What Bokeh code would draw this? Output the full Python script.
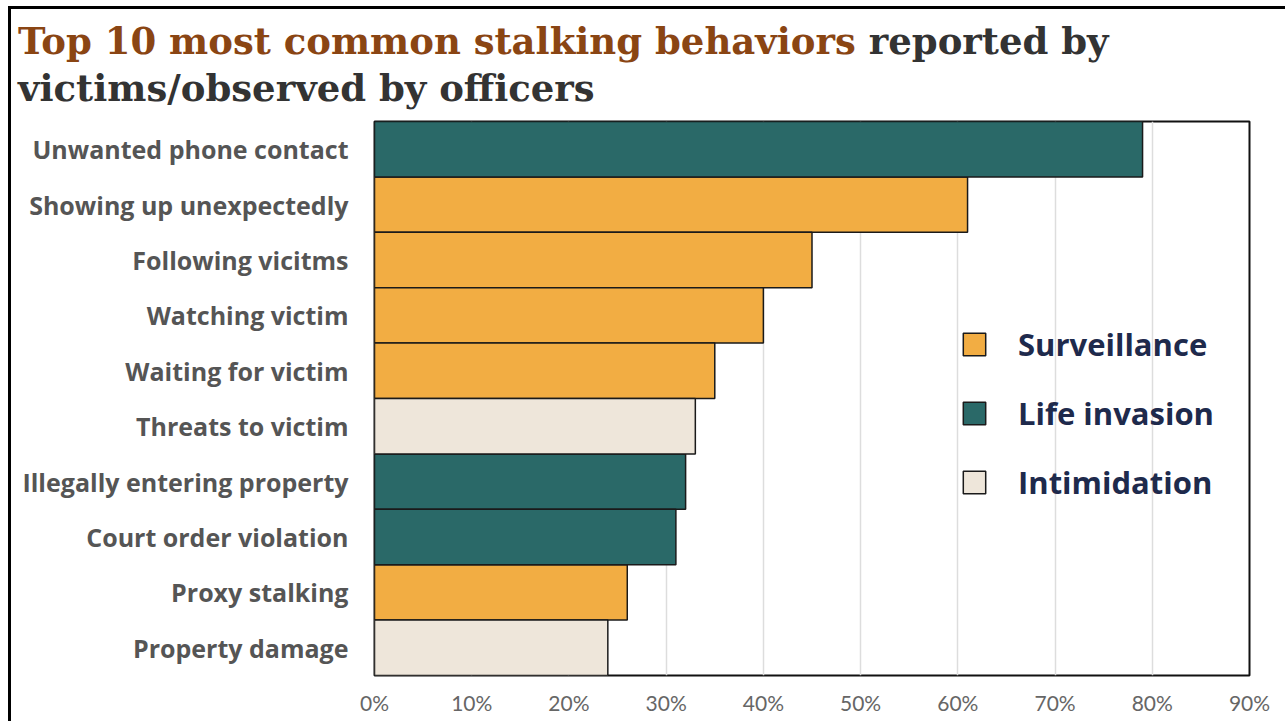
from bokeh.plotting import figure
from bokeh.models import Legend, LegendItem, FixedTicker, ColumnDataSource, Range1d, Div
from bokeh.layouts import column
from bokeh.embed import file_html
from bokeh.resources import INLINE

behaviors = ["Unwanted phone contact", "Showing up unexpectedly", "Following vicitms",
             "Watching victim", "Waiting for victim", "Threats to victim",
             "Illegally entering property", "Court order violation", "Proxy stalking",
             "Property damage"]
percent = [79, 61, 45, 40, 35, 33, 32, 31, 26, 24]
category = ["Life invasion", "Surveillance", "Surveillance", "Surveillance", "Surveillance",
            "Intimidation", "Life invasion", "Life invasion", "Surveillance", "Intimidation"]
legend_order = ["Surveillance", "Life invasion", "Intimidation"]
cat_colors = ["#f2ad43", "#2a6968", "#eee6da"]
x_ticks = [0, 10, 20, 30, 40, 50, 60, 70, 80, 90]
x_tick_labels = ["0%", "10%", "20%", "30%", "40%", "50%", "60%", "70%", "80%", "90%"]
title_part1 = "Top 10 most common stalking behaviors"
title_part2 = "reported by"
title_line2 = "victims/observed by officers"

W = 1274
DIV_H = 100
H = 612
BL, BR, BT, BB = 363, 36, 12, 46

title_html = (
    '<div style="font-family:\'DejaVu Serif\';font-weight:bold;font-size:37px;'
    'line-height:47px;padding:9px 0 0 7px;white-space:nowrap;color:#333333;">'
    f'<span style="color:#8a4513;">{title_part1}</span> {title_part2}<br>{title_line2}</div>'
)
title_div = Div(text=title_html, width=W, height=DIV_H, margin=0)

p = figure(width=W, height=H, y_range=list(reversed(behaviors)), x_range=Range1d(0, 90),
           output_backend="svg", toolbar_location=None, margin=0,
           min_border_left=BL, min_border_right=BR, min_border_top=BT, min_border_bottom=BB)

renderers = {}
for cat, col in zip(legend_order, cat_colors):
    idx = [i for i, c in enumerate(category) if c == cat]
    src = ColumnDataSource(dict(y=[behaviors[i] for i in idx], x=[percent[i] for i in idx]))
    renderers[cat] = p.hbar(y="y", right="x", left=0, height=1.0, source=src,
                            fill_color=col, line_color="#1a1a1a", line_width=1.5)

legend = Legend(items=[LegendItem(label=c, renderers=[renderers[c]]) for c in legend_order],
                location=(586, 172), orientation="vertical",
                glyph_width=28, glyph_height=28, label_height=28, spacing=27,
                label_standoff=30, padding=0, margin=0,
                border_line_alpha=0, background_fill_alpha=0,
                label_text_font="Open Sans", label_text_font_style="bold",
                label_text_font_size="31px", label_text_color="#1e2a4c",
                label_text_baseline="middle")
p.add_layout(legend, "center")

p.xaxis.ticker = FixedTicker(ticks=x_ticks)
p.xaxis.major_label_overrides = {t: l for t, l in zip(x_ticks, x_tick_labels)}
p.xaxis.axis_line_color = None
p.xaxis.major_tick_line_color = None
p.xaxis.minor_tick_line_color = None
p.xaxis.major_label_text_font = "Lato"
p.xaxis.major_label_text_font_size = "21px"
p.xaxis.major_label_text_color = "#666666"
p.xaxis.major_label_standoff = 8

p.yaxis.axis_line_color = None
p.yaxis.major_tick_line_color = None
p.yaxis.major_label_text_font = "Open Sans"
p.yaxis.major_label_text_font_style = "bold"
p.yaxis.major_label_text_font_size = "25px"
p.yaxis.major_label_text_color = "#555555"
p.yaxis.major_label_standoff = 20

p.ygrid.grid_line_color = None
p.xgrid.grid_line_color = "#dddddd"
p.xgrid.grid_line_width = 1.5
p.outline_line_color = "#111111"
p.outline_line_width = 2

layout = column(title_div, p, spacing=0, margin=0,
                styles={"border-top": "3px solid black", "border-left": "3px solid black",
                        "margin-left": "8px", "margin-top": "6px"})

open("out.html", "w").write(file_html(layout, INLINE))
